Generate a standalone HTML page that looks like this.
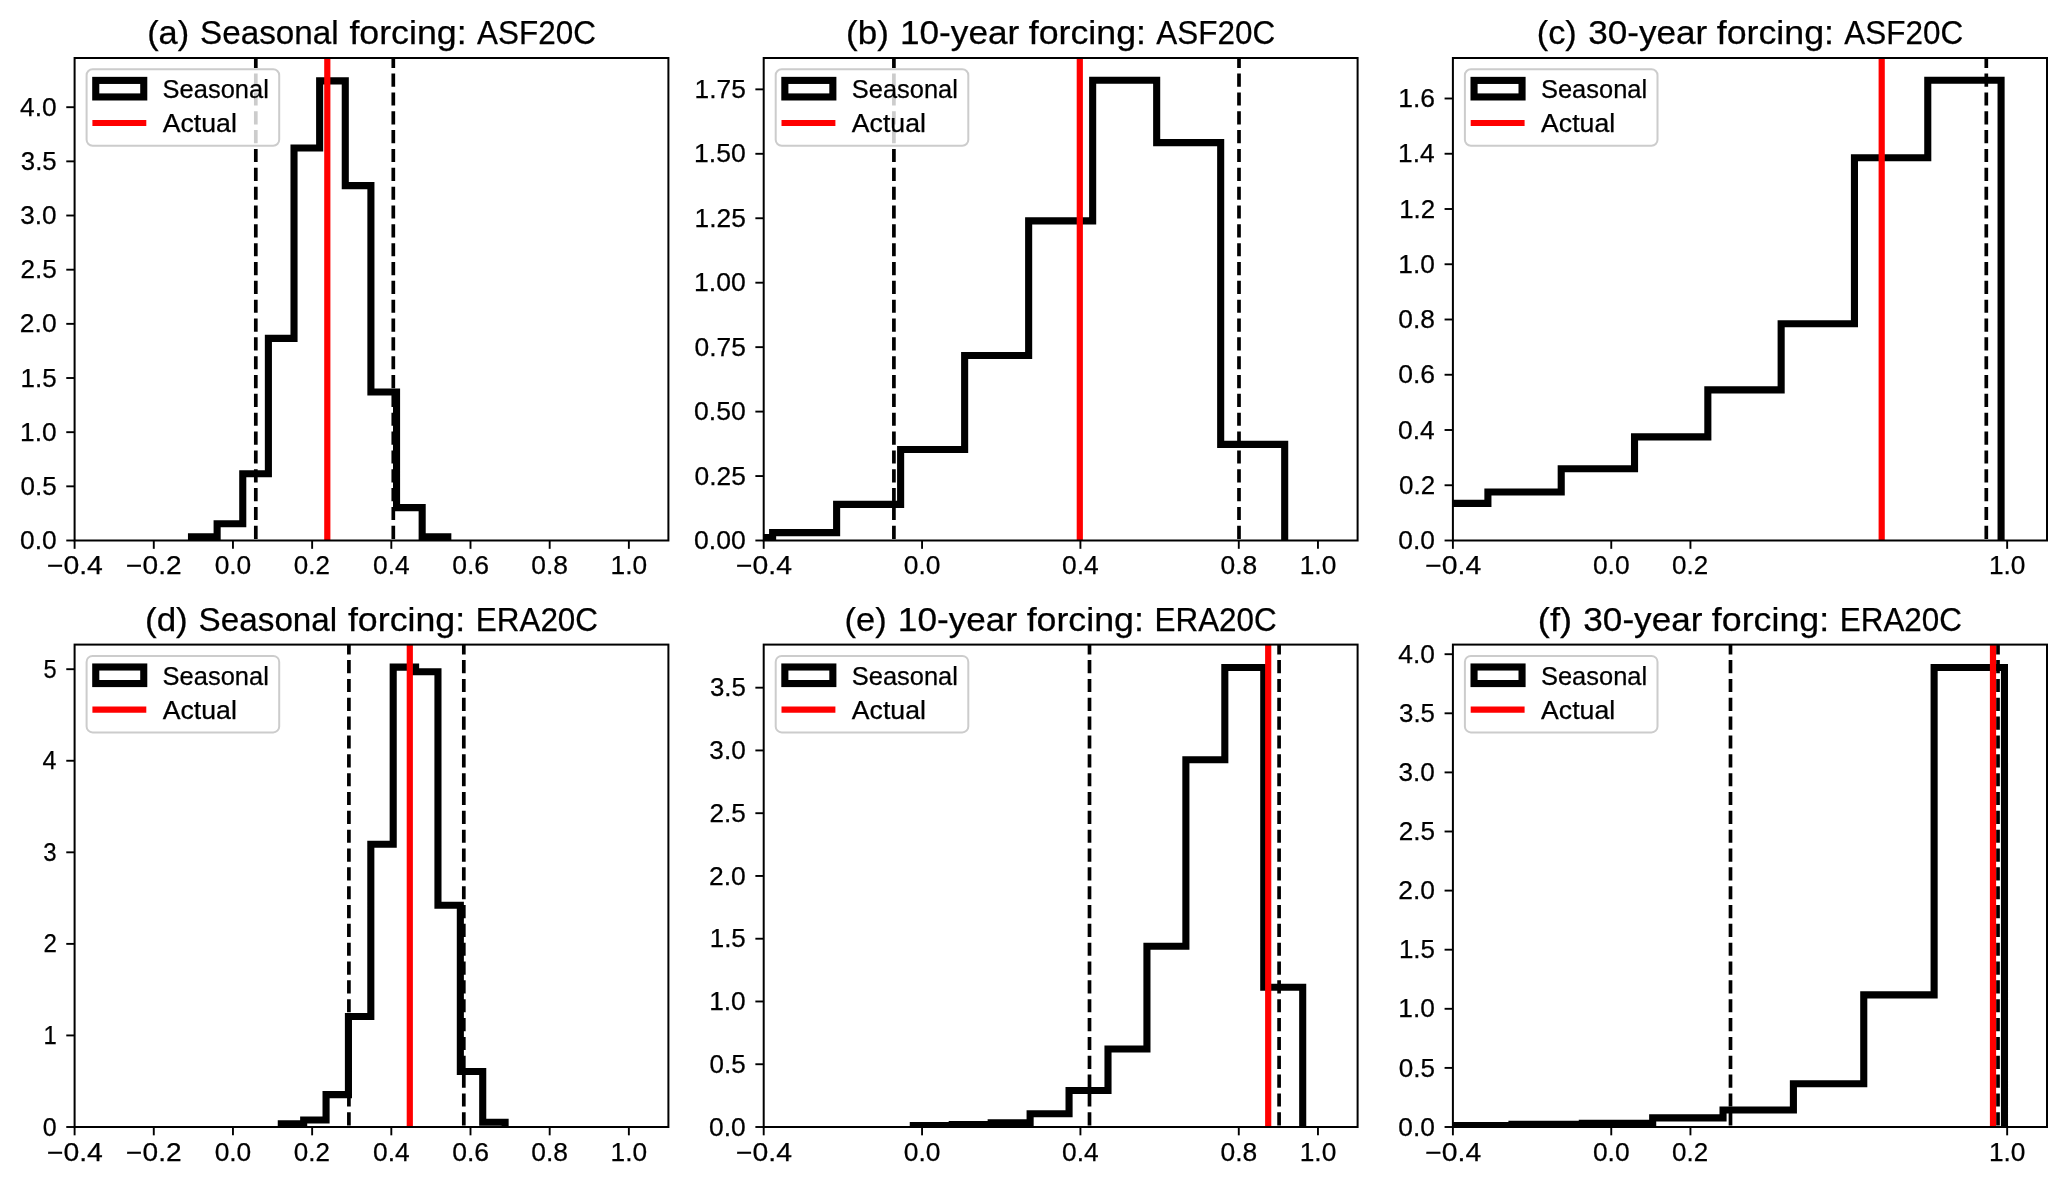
<!DOCTYPE html>
<html><head><meta charset="utf-8"><style>
html,body{margin:0;padding:0;background:#fff;}
svg{display:block;will-change:transform;}
text{font-family:"Liberation Sans", sans-serif;fill:#000;stroke:#000;stroke-width:0.25px;}
</style></head><body>
<svg width="2067" height="1181" viewBox="0 0 2067 1181">
<defs><clipPath id="c0"><rect x="74.6" y="58.0" width="593.80" height="482.50"/></clipPath><clipPath id="c1"><rect x="763.7" y="58.0" width="593.90" height="482.50"/></clipPath><clipPath id="c2"><rect x="1452.9" y="58.0" width="594.10" height="482.50"/></clipPath><clipPath id="c3"><rect x="74.6" y="644.6" width="593.80" height="482.40"/></clipPath><clipPath id="c4"><rect x="763.7" y="644.6" width="593.90" height="482.40"/></clipPath><clipPath id="c5"><rect x="1452.9" y="644.6" width="594.10" height="482.40"/></clipPath></defs>
<rect x="0" y="0" width="2067" height="1181" fill="#fff"/>
<g clip-path="url(#c0)">
<path d="M191.50,540.50 L191.50,536.80 L217.13,536.80 L217.13,523.80 L242.76,523.80 L242.76,473.80 L268.39,473.80 L268.39,338.40 L294.02,338.40 L294.02,148.00 L319.65,148.00 L319.65,80.90 L345.28,80.90 L345.28,185.60 L370.91,185.60 L370.91,392.00 L396.54,392.00 L396.54,507.60 L422.17,507.60 L422.17,536.80 L447.80,536.80 L447.80,540.50" fill="none" stroke="#000" stroke-width="7.1" stroke-linejoin="miter"/>
<line x1="255.8" y1="540.5" x2="255.8" y2="58.0" stroke="#000" stroke-width="3.7" stroke-dasharray="13.15 5.69" stroke-dashoffset="-1.6"/>
<line x1="393.3" y1="540.5" x2="393.3" y2="58.0" stroke="#000" stroke-width="3.7" stroke-dasharray="13.15 5.69" stroke-dashoffset="-1.6"/>
<line x1="327.3" y1="545.5" x2="327.3" y2="53.0" stroke="#ff0000" stroke-width="6.2"/>
</g>
<rect x="74.6" y="58.0" width="593.80" height="482.50" fill="none" stroke="#000" stroke-width="2.0" stroke-linejoin="miter"/>
<line x1="74.60" y1="540.5" x2="74.60" y2="548.83" stroke="#000" stroke-width="1.9"/>
<text x="46.94" y="574.20" font-size="25.11" textLength="55.93" lengthAdjust="spacingAndGlyphs">−0.4</text>
<line x1="153.78" y1="540.5" x2="153.78" y2="548.83" stroke="#000" stroke-width="1.9"/>
<text x="126.13" y="574.20" font-size="25.11" textLength="55.46" lengthAdjust="spacingAndGlyphs">−0.2</text>
<line x1="232.96" y1="540.5" x2="232.96" y2="548.83" stroke="#000" stroke-width="1.9"/>
<text x="214.65" y="574.20" font-size="25.11" textLength="36.61" lengthAdjust="spacingAndGlyphs">0.0</text>
<line x1="312.14" y1="540.5" x2="312.14" y2="548.83" stroke="#000" stroke-width="1.9"/>
<text x="293.84" y="574.20" font-size="25.11" textLength="36.08" lengthAdjust="spacingAndGlyphs">0.2</text>
<line x1="391.32" y1="540.5" x2="391.32" y2="548.83" stroke="#000" stroke-width="1.9"/>
<text x="373.01" y="574.20" font-size="25.11" textLength="36.60" lengthAdjust="spacingAndGlyphs">0.4</text>
<line x1="470.50" y1="540.5" x2="470.50" y2="548.83" stroke="#000" stroke-width="1.9"/>
<text x="452.18" y="574.20" font-size="25.11" textLength="36.84" lengthAdjust="spacingAndGlyphs">0.6</text>
<line x1="549.68" y1="540.5" x2="549.68" y2="548.83" stroke="#000" stroke-width="1.9"/>
<text x="531.37" y="574.20" font-size="25.11" textLength="36.69" lengthAdjust="spacingAndGlyphs">0.8</text>
<line x1="628.86" y1="540.5" x2="628.86" y2="548.83" stroke="#000" stroke-width="1.9"/>
<text x="610.62" y="574.20" font-size="25.11" textLength="36.54" lengthAdjust="spacingAndGlyphs">1.0</text>
<line x1="66.27" y1="540.50" x2="74.6" y2="540.50" stroke="#000" stroke-width="1.9"/>
<text x="20.02" y="549.10" font-size="25.11" textLength="36.61" lengthAdjust="spacingAndGlyphs">0.0</text>
<line x1="66.27" y1="486.34" x2="74.6" y2="486.34" stroke="#000" stroke-width="1.9"/>
<text x="20.53" y="494.94" font-size="25.11" textLength="36.17" lengthAdjust="spacingAndGlyphs">0.5</text>
<line x1="66.27" y1="432.18" x2="74.6" y2="432.18" stroke="#000" stroke-width="1.9"/>
<text x="20.08" y="440.78" font-size="25.11" textLength="36.54" lengthAdjust="spacingAndGlyphs">1.0</text>
<line x1="66.27" y1="378.01" x2="74.6" y2="378.01" stroke="#000" stroke-width="1.9"/>
<text x="20.61" y="386.61" font-size="25.11" textLength="36.08" lengthAdjust="spacingAndGlyphs">1.5</text>
<line x1="66.27" y1="323.85" x2="74.6" y2="323.85" stroke="#000" stroke-width="1.9"/>
<text x="19.89" y="332.45" font-size="25.11" textLength="36.74" lengthAdjust="spacingAndGlyphs">2.0</text>
<line x1="66.27" y1="269.69" x2="74.6" y2="269.69" stroke="#000" stroke-width="1.9"/>
<text x="20.40" y="278.29" font-size="25.11" textLength="36.29" lengthAdjust="spacingAndGlyphs">2.5</text>
<line x1="66.27" y1="215.52" x2="74.6" y2="215.52" stroke="#000" stroke-width="1.9"/>
<text x="20.29" y="224.12" font-size="25.11" textLength="36.33" lengthAdjust="spacingAndGlyphs">3.0</text>
<line x1="66.27" y1="161.36" x2="74.6" y2="161.36" stroke="#000" stroke-width="1.9"/>
<text x="20.80" y="169.96" font-size="25.11" textLength="35.88" lengthAdjust="spacingAndGlyphs">3.5</text>
<line x1="66.27" y1="107.20" x2="74.6" y2="107.20" stroke="#000" stroke-width="1.9"/>
<text x="20.04" y="115.80" font-size="25.11" textLength="36.59" lengthAdjust="spacingAndGlyphs">4.0</text>
<text x="147.17" y="44.30" font-size="32.77" textLength="42.04" lengthAdjust="spacingAndGlyphs">(a)</text>
<text x="200.09" y="44.30" font-size="32.77" textLength="138.60" lengthAdjust="spacingAndGlyphs">Seasonal</text>
<text x="349.40" y="44.30" font-size="32.77" textLength="117.24" lengthAdjust="spacingAndGlyphs">forcing:</text>
<text x="477.00" y="44.30" font-size="32.77" textLength="118.88" lengthAdjust="spacingAndGlyphs">ASF20C</text>
<rect x="86.60" y="69.30" width="192.6" height="76.5" rx="6" ry="6" fill="#fff" fill-opacity="0.8" stroke="#cccccc" stroke-width="2"/>
<rect x="95.75" y="80.40" width="48" height="16.55" fill="none" stroke="#000" stroke-width="7.1"/>
<line x1="95.50" y1="123.00" x2="143.20" y2="123.00" stroke="#ff0000" stroke-width="6.2" stroke-linecap="square"/>
<text x="162.64" y="97.90" font-size="25.11" textLength="106.20" lengthAdjust="spacingAndGlyphs">Seasonal</text>
<text x="162.75" y="131.90" font-size="25.11" textLength="74.09" lengthAdjust="spacingAndGlyphs">Actual</text>
<g clip-path="url(#c1)">
<path d="M708.60,540.50 L708.60,537.50 L772.61,537.50 L772.61,532.60 L836.62,532.60 L836.62,504.40 L900.63,504.40 L900.63,449.50 L964.64,449.50 L964.64,355.50 L1028.65,355.50 L1028.65,220.90 L1092.66,220.90 L1092.66,80.30 L1156.67,80.30 L1156.67,142.60 L1220.68,142.60 L1220.68,444.40 L1284.69,444.40 L1284.69,540.50" fill="none" stroke="#000" stroke-width="7.1" stroke-linejoin="miter"/>
<line x1="893.9" y1="540.5" x2="893.9" y2="58.0" stroke="#000" stroke-width="3.7" stroke-dasharray="13.15 5.69" stroke-dashoffset="-1.6"/>
<line x1="1239.0" y1="540.5" x2="1239.0" y2="58.0" stroke="#000" stroke-width="3.7" stroke-dasharray="13.15 5.69" stroke-dashoffset="-1.6"/>
<line x1="1079.8" y1="545.5" x2="1079.8" y2="53.0" stroke="#ff0000" stroke-width="6.2"/>
</g>
<rect x="763.7" y="58.0" width="593.90" height="482.50" fill="none" stroke="#000" stroke-width="2.0" stroke-linejoin="miter"/>
<line x1="763.70" y1="540.5" x2="763.70" y2="548.83" stroke="#000" stroke-width="1.9"/>
<text x="736.04" y="574.20" font-size="25.11" textLength="55.93" lengthAdjust="spacingAndGlyphs">−0.4</text>
<line x1="922.06" y1="540.5" x2="922.06" y2="548.83" stroke="#000" stroke-width="1.9"/>
<text x="903.75" y="574.20" font-size="25.11" textLength="36.61" lengthAdjust="spacingAndGlyphs">0.0</text>
<line x1="1080.42" y1="540.5" x2="1080.42" y2="548.83" stroke="#000" stroke-width="1.9"/>
<text x="1062.11" y="574.20" font-size="25.11" textLength="36.60" lengthAdjust="spacingAndGlyphs">0.4</text>
<line x1="1238.78" y1="540.5" x2="1238.78" y2="548.83" stroke="#000" stroke-width="1.9"/>
<text x="1220.47" y="574.20" font-size="25.11" textLength="36.69" lengthAdjust="spacingAndGlyphs">0.8</text>
<line x1="1317.96" y1="540.5" x2="1317.96" y2="548.83" stroke="#000" stroke-width="1.9"/>
<text x="1299.72" y="574.20" font-size="25.11" textLength="36.54" lengthAdjust="spacingAndGlyphs">1.0</text>
<line x1="755.37" y1="540.50" x2="763.7" y2="540.50" stroke="#000" stroke-width="1.9"/>
<text x="694.03" y="549.10" font-size="25.11" textLength="51.71" lengthAdjust="spacingAndGlyphs">0.00</text>
<line x1="755.37" y1="476.05" x2="763.7" y2="476.05" stroke="#000" stroke-width="1.9"/>
<text x="694.54" y="484.65" font-size="25.11" textLength="51.27" lengthAdjust="spacingAndGlyphs">0.25</text>
<line x1="755.37" y1="411.60" x2="763.7" y2="411.60" stroke="#000" stroke-width="1.9"/>
<text x="694.03" y="420.20" font-size="25.11" textLength="51.71" lengthAdjust="spacingAndGlyphs">0.50</text>
<line x1="755.37" y1="347.15" x2="763.7" y2="347.15" stroke="#000" stroke-width="1.9"/>
<text x="694.54" y="355.75" font-size="25.11" textLength="51.27" lengthAdjust="spacingAndGlyphs">0.75</text>
<line x1="755.37" y1="282.70" x2="763.7" y2="282.70" stroke="#000" stroke-width="1.9"/>
<text x="694.09" y="291.30" font-size="25.11" textLength="51.65" lengthAdjust="spacingAndGlyphs">1.00</text>
<line x1="755.37" y1="218.25" x2="763.7" y2="218.25" stroke="#000" stroke-width="1.9"/>
<text x="694.60" y="226.85" font-size="25.11" textLength="51.20" lengthAdjust="spacingAndGlyphs">1.25</text>
<line x1="755.37" y1="153.80" x2="763.7" y2="153.80" stroke="#000" stroke-width="1.9"/>
<text x="694.09" y="162.40" font-size="25.11" textLength="51.65" lengthAdjust="spacingAndGlyphs">1.50</text>
<line x1="755.37" y1="89.35" x2="763.7" y2="89.35" stroke="#000" stroke-width="1.9"/>
<text x="694.60" y="97.95" font-size="25.11" textLength="51.20" lengthAdjust="spacingAndGlyphs">1.75</text>
<text x="846.08" y="44.30" font-size="32.77" textLength="42.79" lengthAdjust="spacingAndGlyphs">(b)</text>
<text x="899.91" y="44.30" font-size="32.77" textLength="119.39" lengthAdjust="spacingAndGlyphs">10-year</text>
<text x="1028.75" y="44.30" font-size="32.77" textLength="117.24" lengthAdjust="spacingAndGlyphs">forcing:</text>
<text x="1156.35" y="44.30" font-size="32.77" textLength="118.88" lengthAdjust="spacingAndGlyphs">ASF20C</text>
<rect x="775.70" y="69.30" width="192.6" height="76.5" rx="6" ry="6" fill="#fff" fill-opacity="0.8" stroke="#cccccc" stroke-width="2"/>
<rect x="784.85" y="80.40" width="48" height="16.55" fill="none" stroke="#000" stroke-width="7.1"/>
<line x1="784.60" y1="123.00" x2="832.30" y2="123.00" stroke="#ff0000" stroke-width="6.2" stroke-linecap="square"/>
<text x="851.74" y="97.90" font-size="25.11" textLength="106.20" lengthAdjust="spacingAndGlyphs">Seasonal</text>
<text x="851.85" y="131.90" font-size="25.11" textLength="74.09" lengthAdjust="spacingAndGlyphs">Actual</text>
<g clip-path="url(#c2)">
<path d="M1414.60,540.50 L1414.60,503.40 L1487.91,503.40 L1487.91,492.00 L1561.22,492.00 L1561.22,468.70 L1634.53,468.70 L1634.53,436.90 L1707.84,436.90 L1707.84,389.90 L1781.15,389.90 L1781.15,323.80 L1854.46,323.80 L1854.46,157.80 L1927.77,157.80 L1927.77,80.30 L2001.08,80.30 L2001.08,540.50" fill="none" stroke="#000" stroke-width="7.1" stroke-linejoin="miter"/>
<line x1="1986.3" y1="540.5" x2="1986.3" y2="58.0" stroke="#000" stroke-width="3.7" stroke-dasharray="13.15 5.69" stroke-dashoffset="-1.6"/>
<line x1="1881.7" y1="545.5" x2="1881.7" y2="53.0" stroke="#ff0000" stroke-width="6.2"/>
</g>
<rect x="1452.9" y="58.0" width="594.10" height="482.50" fill="none" stroke="#000" stroke-width="2.0" stroke-linejoin="miter"/>
<line x1="1452.90" y1="540.5" x2="1452.90" y2="548.83" stroke="#000" stroke-width="1.9"/>
<text x="1425.24" y="574.20" font-size="25.11" textLength="55.93" lengthAdjust="spacingAndGlyphs">−0.4</text>
<line x1="1611.26" y1="540.5" x2="1611.26" y2="548.83" stroke="#000" stroke-width="1.9"/>
<text x="1592.95" y="574.20" font-size="25.11" textLength="36.61" lengthAdjust="spacingAndGlyphs">0.0</text>
<line x1="1690.44" y1="540.5" x2="1690.44" y2="548.83" stroke="#000" stroke-width="1.9"/>
<text x="1672.14" y="574.20" font-size="25.11" textLength="36.08" lengthAdjust="spacingAndGlyphs">0.2</text>
<line x1="2007.16" y1="540.5" x2="2007.16" y2="548.83" stroke="#000" stroke-width="1.9"/>
<text x="1988.92" y="574.20" font-size="25.11" textLength="36.54" lengthAdjust="spacingAndGlyphs">1.0</text>
<line x1="1444.57" y1="540.50" x2="1452.9" y2="540.50" stroke="#000" stroke-width="1.9"/>
<text x="1398.32" y="549.10" font-size="25.11" textLength="36.61" lengthAdjust="spacingAndGlyphs">0.0</text>
<line x1="1444.57" y1="485.25" x2="1452.9" y2="485.25" stroke="#000" stroke-width="1.9"/>
<text x="1399.13" y="493.85" font-size="25.11" textLength="36.08" lengthAdjust="spacingAndGlyphs">0.2</text>
<line x1="1444.57" y1="430.00" x2="1452.9" y2="430.00" stroke="#000" stroke-width="1.9"/>
<text x="1398.07" y="438.60" font-size="25.11" textLength="36.60" lengthAdjust="spacingAndGlyphs">0.4</text>
<line x1="1444.57" y1="374.75" x2="1452.9" y2="374.75" stroke="#000" stroke-width="1.9"/>
<text x="1398.23" y="383.35" font-size="25.11" textLength="36.84" lengthAdjust="spacingAndGlyphs">0.6</text>
<line x1="1444.57" y1="319.50" x2="1452.9" y2="319.50" stroke="#000" stroke-width="1.9"/>
<text x="1398.36" y="328.10" font-size="25.11" textLength="36.69" lengthAdjust="spacingAndGlyphs">0.8</text>
<line x1="1444.57" y1="264.25" x2="1452.9" y2="264.25" stroke="#000" stroke-width="1.9"/>
<text x="1398.38" y="272.85" font-size="25.11" textLength="36.54" lengthAdjust="spacingAndGlyphs">1.0</text>
<line x1="1444.57" y1="209.00" x2="1452.9" y2="209.00" stroke="#000" stroke-width="1.9"/>
<text x="1399.21" y="217.60" font-size="25.11" textLength="35.99" lengthAdjust="spacingAndGlyphs">1.2</text>
<line x1="1444.57" y1="153.75" x2="1452.9" y2="153.75" stroke="#000" stroke-width="1.9"/>
<text x="1398.14" y="162.35" font-size="25.11" textLength="36.53" lengthAdjust="spacingAndGlyphs">1.4</text>
<line x1="1444.57" y1="98.50" x2="1452.9" y2="98.50" stroke="#000" stroke-width="1.9"/>
<text x="1398.29" y="107.10" font-size="25.11" textLength="36.77" lengthAdjust="spacingAndGlyphs">1.6</text>
<text x="1536.74" y="44.30" font-size="32.77" textLength="40.09" lengthAdjust="spacingAndGlyphs">(c)</text>
<text x="1588.20" y="44.30" font-size="32.77" textLength="119.09" lengthAdjust="spacingAndGlyphs">30-year</text>
<text x="1716.74" y="44.30" font-size="32.77" textLength="117.24" lengthAdjust="spacingAndGlyphs">forcing:</text>
<text x="1844.33" y="44.30" font-size="32.77" textLength="118.88" lengthAdjust="spacingAndGlyphs">ASF20C</text>
<rect x="1464.90" y="69.30" width="192.6" height="76.5" rx="6" ry="6" fill="#fff" fill-opacity="0.8" stroke="#cccccc" stroke-width="2"/>
<rect x="1474.05" y="80.40" width="48" height="16.55" fill="none" stroke="#000" stroke-width="7.1"/>
<line x1="1473.80" y1="123.00" x2="1521.50" y2="123.00" stroke="#ff0000" stroke-width="6.2" stroke-linecap="square"/>
<text x="1540.94" y="97.90" font-size="25.11" textLength="106.20" lengthAdjust="spacingAndGlyphs">Seasonal</text>
<text x="1541.05" y="131.90" font-size="25.11" textLength="74.09" lengthAdjust="spacingAndGlyphs">Actual</text>
<g clip-path="url(#c3)">
<path d="M281.30,1127.00 L281.30,1123.90 L303.68,1123.90 L303.68,1120.00 L326.06,1120.00 L326.06,1094.60 L348.44,1094.60 L348.44,1016.50 L370.82,1016.50 L370.82,844.20 L393.20,844.20 L393.20,667.10 L415.58,667.10 L415.58,671.80 L437.96,671.80 L437.96,905.30 L460.34,905.30 L460.34,1071.50 L482.72,1071.50 L482.72,1122.20 L505.10,1122.20 L505.10,1127.00" fill="none" stroke="#000" stroke-width="7.1" stroke-linejoin="miter"/>
<line x1="348.9" y1="1127.0" x2="348.9" y2="644.6" stroke="#000" stroke-width="3.7" stroke-dasharray="13.15 5.69" stroke-dashoffset="-1.6"/>
<line x1="463.8" y1="1127.0" x2="463.8" y2="644.6" stroke="#000" stroke-width="3.7" stroke-dasharray="13.15 5.69" stroke-dashoffset="-1.6"/>
<line x1="409.8" y1="1132.0" x2="409.8" y2="639.6" stroke="#ff0000" stroke-width="6.2"/>
</g>
<rect x="74.6" y="644.6" width="593.80" height="482.40" fill="none" stroke="#000" stroke-width="2.0" stroke-linejoin="miter"/>
<line x1="74.60" y1="1127.0" x2="74.60" y2="1135.33" stroke="#000" stroke-width="1.9"/>
<text x="46.94" y="1160.70" font-size="25.11" textLength="55.93" lengthAdjust="spacingAndGlyphs">−0.4</text>
<line x1="153.78" y1="1127.0" x2="153.78" y2="1135.33" stroke="#000" stroke-width="1.9"/>
<text x="126.13" y="1160.70" font-size="25.11" textLength="55.46" lengthAdjust="spacingAndGlyphs">−0.2</text>
<line x1="232.96" y1="1127.0" x2="232.96" y2="1135.33" stroke="#000" stroke-width="1.9"/>
<text x="214.65" y="1160.70" font-size="25.11" textLength="36.61" lengthAdjust="spacingAndGlyphs">0.0</text>
<line x1="312.14" y1="1127.0" x2="312.14" y2="1135.33" stroke="#000" stroke-width="1.9"/>
<text x="293.84" y="1160.70" font-size="25.11" textLength="36.08" lengthAdjust="spacingAndGlyphs">0.2</text>
<line x1="391.32" y1="1127.0" x2="391.32" y2="1135.33" stroke="#000" stroke-width="1.9"/>
<text x="373.01" y="1160.70" font-size="25.11" textLength="36.60" lengthAdjust="spacingAndGlyphs">0.4</text>
<line x1="470.50" y1="1127.0" x2="470.50" y2="1135.33" stroke="#000" stroke-width="1.9"/>
<text x="452.18" y="1160.70" font-size="25.11" textLength="36.84" lengthAdjust="spacingAndGlyphs">0.6</text>
<line x1="549.68" y1="1127.0" x2="549.68" y2="1135.33" stroke="#000" stroke-width="1.9"/>
<text x="531.37" y="1160.70" font-size="25.11" textLength="36.69" lengthAdjust="spacingAndGlyphs">0.8</text>
<line x1="628.86" y1="1127.0" x2="628.86" y2="1135.33" stroke="#000" stroke-width="1.9"/>
<text x="610.62" y="1160.70" font-size="25.11" textLength="36.54" lengthAdjust="spacingAndGlyphs">1.0</text>
<line x1="66.27" y1="1127.00" x2="74.6" y2="1127.00" stroke="#000" stroke-width="1.9"/>
<text x="42.68" y="1135.60" font-size="25.11" textLength="13.89" lengthAdjust="spacingAndGlyphs">0</text>
<line x1="66.27" y1="1035.44" x2="74.6" y2="1035.44" stroke="#000" stroke-width="1.9"/>
<text x="43.49" y="1044.04" font-size="25.11" textLength="13.27" lengthAdjust="spacingAndGlyphs">1</text>
<line x1="66.27" y1="943.88" x2="74.6" y2="943.88" stroke="#000" stroke-width="1.9"/>
<text x="43.42" y="952.48" font-size="25.11" textLength="13.39" lengthAdjust="spacingAndGlyphs">2</text>
<line x1="66.27" y1="852.32" x2="74.6" y2="852.32" stroke="#000" stroke-width="1.9"/>
<text x="43.31" y="860.92" font-size="25.11" textLength="13.34" lengthAdjust="spacingAndGlyphs">3</text>
<line x1="66.27" y1="760.76" x2="74.6" y2="760.76" stroke="#000" stroke-width="1.9"/>
<text x="42.44" y="769.36" font-size="25.11" textLength="13.90" lengthAdjust="spacingAndGlyphs">4</text>
<line x1="66.27" y1="669.20" x2="74.6" y2="669.20" stroke="#000" stroke-width="1.9"/>
<text x="43.48" y="677.80" font-size="25.11" textLength="13.11" lengthAdjust="spacingAndGlyphs">5</text>
<text x="144.99" y="630.90" font-size="32.77" textLength="42.79" lengthAdjust="spacingAndGlyphs">(d)</text>
<text x="198.63" y="630.90" font-size="32.77" textLength="138.60" lengthAdjust="spacingAndGlyphs">Seasonal</text>
<text x="347.94" y="630.90" font-size="32.77" textLength="117.24" lengthAdjust="spacingAndGlyphs">forcing:</text>
<text x="475.81" y="630.90" font-size="32.77" textLength="122.21" lengthAdjust="spacingAndGlyphs">ERA20C</text>
<rect x="86.60" y="655.90" width="192.6" height="76.5" rx="6" ry="6" fill="#fff" fill-opacity="0.8" stroke="#cccccc" stroke-width="2"/>
<rect x="95.75" y="667.00" width="48" height="16.55" fill="none" stroke="#000" stroke-width="7.1"/>
<line x1="95.50" y1="709.60" x2="143.20" y2="709.60" stroke="#ff0000" stroke-width="6.2" stroke-linecap="square"/>
<text x="162.64" y="684.50" font-size="25.11" textLength="106.20" lengthAdjust="spacingAndGlyphs">Seasonal</text>
<text x="162.75" y="718.50" font-size="25.11" textLength="74.09" lengthAdjust="spacingAndGlyphs">Actual</text>
<g clip-path="url(#c4)">
<path d="M913.30,1127.00 L913.30,1125.65 L952.24,1125.65 L952.24,1124.55 L991.18,1124.55 L991.18,1122.75 L1030.12,1122.75 L1030.12,1113.75 L1069.06,1113.75 L1069.06,1090.50 L1108.00,1090.50 L1108.00,1049.00 L1146.94,1049.00 L1146.94,946.20 L1185.88,946.20 L1185.88,759.80 L1224.82,759.80 L1224.82,667.50 L1263.76,667.50 L1263.76,987.30 L1302.70,987.30 L1302.70,1127.00" fill="none" stroke="#000" stroke-width="7.1" stroke-linejoin="miter"/>
<line x1="1089.5" y1="1127.0" x2="1089.5" y2="644.6" stroke="#000" stroke-width="3.7" stroke-dasharray="13.15 5.69" stroke-dashoffset="-1.6"/>
<line x1="1279.1" y1="1127.0" x2="1279.1" y2="644.6" stroke="#000" stroke-width="3.7" stroke-dasharray="13.15 5.69" stroke-dashoffset="-1.6"/>
<line x1="1268.2" y1="1132.0" x2="1268.2" y2="639.6" stroke="#ff0000" stroke-width="6.2"/>
</g>
<rect x="763.7" y="644.6" width="593.90" height="482.40" fill="none" stroke="#000" stroke-width="2.0" stroke-linejoin="miter"/>
<line x1="763.70" y1="1127.0" x2="763.70" y2="1135.33" stroke="#000" stroke-width="1.9"/>
<text x="736.04" y="1160.70" font-size="25.11" textLength="55.93" lengthAdjust="spacingAndGlyphs">−0.4</text>
<line x1="922.06" y1="1127.0" x2="922.06" y2="1135.33" stroke="#000" stroke-width="1.9"/>
<text x="903.75" y="1160.70" font-size="25.11" textLength="36.61" lengthAdjust="spacingAndGlyphs">0.0</text>
<line x1="1080.42" y1="1127.0" x2="1080.42" y2="1135.33" stroke="#000" stroke-width="1.9"/>
<text x="1062.11" y="1160.70" font-size="25.11" textLength="36.60" lengthAdjust="spacingAndGlyphs">0.4</text>
<line x1="1238.78" y1="1127.0" x2="1238.78" y2="1135.33" stroke="#000" stroke-width="1.9"/>
<text x="1220.47" y="1160.70" font-size="25.11" textLength="36.69" lengthAdjust="spacingAndGlyphs">0.8</text>
<line x1="1317.96" y1="1127.0" x2="1317.96" y2="1135.33" stroke="#000" stroke-width="1.9"/>
<text x="1299.72" y="1160.70" font-size="25.11" textLength="36.54" lengthAdjust="spacingAndGlyphs">1.0</text>
<line x1="755.37" y1="1127.00" x2="763.7" y2="1127.00" stroke="#000" stroke-width="1.9"/>
<text x="709.12" y="1135.60" font-size="25.11" textLength="36.61" lengthAdjust="spacingAndGlyphs">0.0</text>
<line x1="755.37" y1="1064.24" x2="763.7" y2="1064.24" stroke="#000" stroke-width="1.9"/>
<text x="709.63" y="1072.84" font-size="25.11" textLength="36.17" lengthAdjust="spacingAndGlyphs">0.5</text>
<line x1="755.37" y1="1001.48" x2="763.7" y2="1001.48" stroke="#000" stroke-width="1.9"/>
<text x="709.18" y="1010.08" font-size="25.11" textLength="36.54" lengthAdjust="spacingAndGlyphs">1.0</text>
<line x1="755.37" y1="938.72" x2="763.7" y2="938.72" stroke="#000" stroke-width="1.9"/>
<text x="709.71" y="947.32" font-size="25.11" textLength="36.08" lengthAdjust="spacingAndGlyphs">1.5</text>
<line x1="755.37" y1="875.96" x2="763.7" y2="875.96" stroke="#000" stroke-width="1.9"/>
<text x="708.99" y="884.56" font-size="25.11" textLength="36.74" lengthAdjust="spacingAndGlyphs">2.0</text>
<line x1="755.37" y1="813.20" x2="763.7" y2="813.20" stroke="#000" stroke-width="1.9"/>
<text x="709.50" y="821.80" font-size="25.11" textLength="36.29" lengthAdjust="spacingAndGlyphs">2.5</text>
<line x1="755.37" y1="750.44" x2="763.7" y2="750.44" stroke="#000" stroke-width="1.9"/>
<text x="709.39" y="759.04" font-size="25.11" textLength="36.33" lengthAdjust="spacingAndGlyphs">3.0</text>
<line x1="755.37" y1="687.68" x2="763.7" y2="687.68" stroke="#000" stroke-width="1.9"/>
<text x="709.90" y="696.28" font-size="25.11" textLength="35.88" lengthAdjust="spacingAndGlyphs">3.5</text>
<text x="844.62" y="630.90" font-size="32.77" textLength="42.12" lengthAdjust="spacingAndGlyphs">(e)</text>
<text x="897.81" y="630.90" font-size="32.77" textLength="119.39" lengthAdjust="spacingAndGlyphs">10-year</text>
<text x="1026.65" y="630.90" font-size="32.77" textLength="117.24" lengthAdjust="spacingAndGlyphs">forcing:</text>
<text x="1154.52" y="630.90" font-size="32.77" textLength="122.21" lengthAdjust="spacingAndGlyphs">ERA20C</text>
<rect x="775.70" y="655.90" width="192.6" height="76.5" rx="6" ry="6" fill="#fff" fill-opacity="0.8" stroke="#cccccc" stroke-width="2"/>
<rect x="784.85" y="667.00" width="48" height="16.55" fill="none" stroke="#000" stroke-width="7.1"/>
<line x1="784.60" y1="709.60" x2="832.30" y2="709.60" stroke="#ff0000" stroke-width="6.2" stroke-linecap="square"/>
<text x="851.74" y="684.50" font-size="25.11" textLength="106.20" lengthAdjust="spacingAndGlyphs">Seasonal</text>
<text x="851.85" y="718.50" font-size="25.11" textLength="74.09" lengthAdjust="spacingAndGlyphs">Actual</text>
<g clip-path="url(#c5)">
<path d="M1441.60,1127.00 L1441.60,1125.50 L1511.96,1125.50 L1511.96,1124.30 L1582.32,1124.30 L1582.32,1123.40 L1652.68,1123.40 L1652.68,1117.90 L1723.04,1117.90 L1723.04,1110.00 L1793.40,1110.00 L1793.40,1083.80 L1863.76,1083.80 L1863.76,994.90 L1934.12,994.90 L1934.12,667.50 L2004.48,667.50 L2004.48,1127.00" fill="none" stroke="#000" stroke-width="7.1" stroke-linejoin="miter"/>
<line x1="1730.5" y1="1127.0" x2="1730.5" y2="644.6" stroke="#000" stroke-width="3.7" stroke-dasharray="13.15 5.69" stroke-dashoffset="-1.6"/>
<line x1="1998.0" y1="1127.0" x2="1998.0" y2="644.6" stroke="#000" stroke-width="3.7" stroke-dasharray="13.15 5.69" stroke-dashoffset="-1.6"/>
<line x1="1993.0" y1="1132.0" x2="1993.0" y2="639.6" stroke="#ff0000" stroke-width="6.2"/>
</g>
<rect x="1452.9" y="644.6" width="594.10" height="482.40" fill="none" stroke="#000" stroke-width="2.0" stroke-linejoin="miter"/>
<line x1="1452.90" y1="1127.0" x2="1452.90" y2="1135.33" stroke="#000" stroke-width="1.9"/>
<text x="1425.24" y="1160.70" font-size="25.11" textLength="55.93" lengthAdjust="spacingAndGlyphs">−0.4</text>
<line x1="1611.26" y1="1127.0" x2="1611.26" y2="1135.33" stroke="#000" stroke-width="1.9"/>
<text x="1592.95" y="1160.70" font-size="25.11" textLength="36.61" lengthAdjust="spacingAndGlyphs">0.0</text>
<line x1="1690.44" y1="1127.0" x2="1690.44" y2="1135.33" stroke="#000" stroke-width="1.9"/>
<text x="1672.14" y="1160.70" font-size="25.11" textLength="36.08" lengthAdjust="spacingAndGlyphs">0.2</text>
<line x1="2007.16" y1="1127.0" x2="2007.16" y2="1135.33" stroke="#000" stroke-width="1.9"/>
<text x="1988.92" y="1160.70" font-size="25.11" textLength="36.54" lengthAdjust="spacingAndGlyphs">1.0</text>
<line x1="1444.57" y1="1127.00" x2="1452.9" y2="1127.00" stroke="#000" stroke-width="1.9"/>
<text x="1398.32" y="1135.60" font-size="25.11" textLength="36.61" lengthAdjust="spacingAndGlyphs">0.0</text>
<line x1="1444.57" y1="1067.90" x2="1452.9" y2="1067.90" stroke="#000" stroke-width="1.9"/>
<text x="1398.83" y="1076.50" font-size="25.11" textLength="36.17" lengthAdjust="spacingAndGlyphs">0.5</text>
<line x1="1444.57" y1="1008.80" x2="1452.9" y2="1008.80" stroke="#000" stroke-width="1.9"/>
<text x="1398.38" y="1017.40" font-size="25.11" textLength="36.54" lengthAdjust="spacingAndGlyphs">1.0</text>
<line x1="1444.57" y1="949.70" x2="1452.9" y2="949.70" stroke="#000" stroke-width="1.9"/>
<text x="1398.91" y="958.30" font-size="25.11" textLength="36.08" lengthAdjust="spacingAndGlyphs">1.5</text>
<line x1="1444.57" y1="890.60" x2="1452.9" y2="890.60" stroke="#000" stroke-width="1.9"/>
<text x="1398.19" y="899.20" font-size="25.11" textLength="36.74" lengthAdjust="spacingAndGlyphs">2.0</text>
<line x1="1444.57" y1="831.50" x2="1452.9" y2="831.50" stroke="#000" stroke-width="1.9"/>
<text x="1398.70" y="840.10" font-size="25.11" textLength="36.29" lengthAdjust="spacingAndGlyphs">2.5</text>
<line x1="1444.57" y1="772.40" x2="1452.9" y2="772.40" stroke="#000" stroke-width="1.9"/>
<text x="1398.59" y="781.00" font-size="25.11" textLength="36.33" lengthAdjust="spacingAndGlyphs">3.0</text>
<line x1="1444.57" y1="713.30" x2="1452.9" y2="713.30" stroke="#000" stroke-width="1.9"/>
<text x="1399.10" y="721.90" font-size="25.11" textLength="35.88" lengthAdjust="spacingAndGlyphs">3.5</text>
<line x1="1444.57" y1="654.20" x2="1452.9" y2="654.20" stroke="#000" stroke-width="1.9"/>
<text x="1398.34" y="662.80" font-size="25.11" textLength="36.59" lengthAdjust="spacingAndGlyphs">4.0</text>
<text x="1537.88" y="630.90" font-size="32.77" textLength="34.20" lengthAdjust="spacingAndGlyphs">(f)</text>
<text x="1583.34" y="630.90" font-size="32.77" textLength="119.09" lengthAdjust="spacingAndGlyphs">30-year</text>
<text x="1711.88" y="630.90" font-size="32.77" textLength="117.24" lengthAdjust="spacingAndGlyphs">forcing:</text>
<text x="1839.75" y="630.90" font-size="32.77" textLength="122.21" lengthAdjust="spacingAndGlyphs">ERA20C</text>
<rect x="1464.90" y="655.90" width="192.6" height="76.5" rx="6" ry="6" fill="#fff" fill-opacity="0.8" stroke="#cccccc" stroke-width="2"/>
<rect x="1474.05" y="667.00" width="48" height="16.55" fill="none" stroke="#000" stroke-width="7.1"/>
<line x1="1473.80" y1="709.60" x2="1521.50" y2="709.60" stroke="#ff0000" stroke-width="6.2" stroke-linecap="square"/>
<text x="1540.94" y="684.50" font-size="25.11" textLength="106.20" lengthAdjust="spacingAndGlyphs">Seasonal</text>
<text x="1541.05" y="718.50" font-size="25.11" textLength="74.09" lengthAdjust="spacingAndGlyphs">Actual</text>
</svg>
</body></html>
